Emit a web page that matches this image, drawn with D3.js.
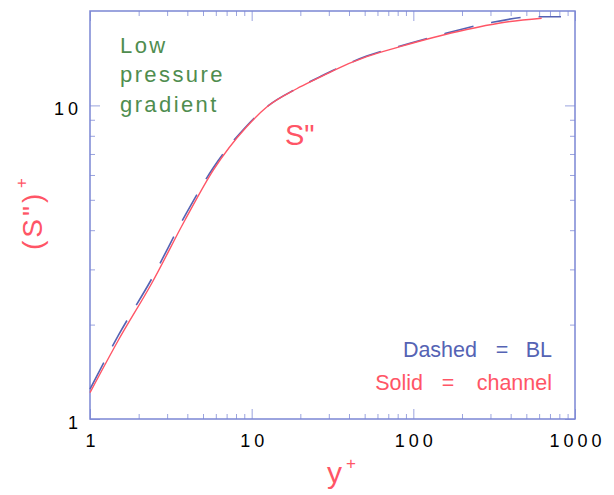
<!DOCTYPE html>
<html><head><meta charset="utf-8">
<script src="https://cdn.jsdelivr.net/npm/d3@7"></script>
<style>body{margin:0;background:#fff}svg{display:block}</style>
</head><body>
<svg id="c" width="614" height="495"></svg>
<script>
// ---- data ----
const redX  = [1, 1.5, 2.41, 3.87, 5.79, 9.31, 12.4, 19.0, 26.5, 32.0, 51.5, 82.7, 133, 214, 344, 622];
const redY  = [1.213, 1.786, 2.71, 4.31, 6.22, 8.55, 9.88, 11.30, 12.30, 12.92, 14.30, 15.39, 16.46, 17.46, 18.32, 18.96];
const blueX = [1, 1.5, 2.41, 3.87, 5.79, 9.31, 12.4, 19.0, 26.5, 32.0, 51.5, 95.3, 146, 286, 566, 819];
const blueY = [1.245, 1.85, 2.80, 4.45, 6.33, 8.6, 9.90, 11.32, 12.35, 12.95, 14.36, 15.78, 16.77, 18.27, 19.18, 19.18];
const xMajor = [1, 10, 100, 1000];
const xTickLabels = ["1", "10", "100", "1000"];
const xMinor = [2,3,4,5,6,7,8,9,20,30,40,50,60,70,80,90,200,300,400,500,600,700,800,900];
const yMajor = [1, 10];
const yTickLabels = ["1", "10"];
const yMinor = [2,3,4,5,6,7,8,9];
const annotation = ["Low", "pressure", "gradient"];

// ---- chart ----
const svg = d3.select("#c");
const L = 90, R = 575, T = 11, B = 419;
const x = d3.scaleLog().domain([1, 1000]).range([L, R]);
const y = d3.scaleLog().domain([1, 20]).range([B, T]);

const frameCol = "#7b86d4", tickCol = "#9aa3df";
const red = "#ff5566", blue = "#5563b4", green = "#4f8d4f";

function addAxis(axis, tx, ty) {
  const g = svg.append("g").attr("transform", `translate(${tx},${ty})`).call(axis);
  g.select(".domain").remove();
  g.selectAll(".tick line").attr("stroke", tickCol).attr("stroke-width", 1);
  return g;
}
// minor ticks
addAxis(d3.axisBottom(x).tickValues(xMinor).tickFormat("").tickSize(-5), 0, B);
addAxis(d3.axisTop(x).tickValues(xMinor).tickFormat("").tickSize(-5), 0, T);
addAxis(d3.axisLeft(y).tickValues(yMinor).tickFormat("").tickSize(-5), L, 0);
addAxis(d3.axisRight(y).tickValues(yMinor).tickFormat("").tickSize(-5), R, 0);
// major ticks
const gx = addAxis(d3.axisBottom(x).tickValues(xMajor).tickFormat((d, i) => xTickLabels[i]).tickSize(-10), 0, B);
addAxis(d3.axisTop(x).tickValues(xMajor).tickFormat("").tickSize(-10), 0, T);
const gy = addAxis(d3.axisLeft(y).tickValues(yMajor).tickFormat((d, i) => yTickLabels[i]).tickSize(-10), L, 0);
addAxis(d3.axisRight(y).tickValues(yMajor).tickFormat("").tickSize(-10), R, 0);

gx.selectAll(".tick text")
  .attr("y", 28).attr("dy", 0).attr("dx", 2)
  .attr("font-family", "Liberation Sans, Arial, sans-serif").attr("font-size", 18)
  .attr("letter-spacing", 4).attr("fill", "#000");
gy.selectAll(".tick text")
  .attr("x", -8).attr("dy", 9.5)
  .attr("font-family", "Liberation Sans, Arial, sans-serif").attr("font-size", 18)
  .attr("letter-spacing", 4).attr("fill", "#000");

// frame
svg.append("rect").attr("x", L).attr("y", T).attr("width", R - L).attr("height", B - T)
  .attr("fill", "none").attr("stroke", frameCol).attr("stroke-width", 1.5);

// curves
const line = d3.line().x(d => x(d[0])).y(d => y(d[1])).curve(d3.curveMonotoneX);
svg.append("path").datum(blueX.map((v, i) => [v, blueY[i]]))
  .attr("d", line).attr("fill", "none").attr("stroke", blue).attr("stroke-width", 1.6)
  .attr("stroke-dasharray", "30,18");
svg.append("path").datum(redX.map((v, i) => [v, redY[i]]))
  .attr("d", line).attr("fill", "none").attr("stroke", red).attr("stroke-width", 1.4);

// annotation text
const font = "Liberation Sans, Arial, sans-serif";
svg.append("g").selectAll("text").data(annotation).join("text")
  .attr("x", 120).attr("y", (d, i) => 53 + i * 29.3)
  .attr("font-family", font).attr("font-size", 22).attr("letter-spacing", 2.4)
  .attr("fill", green).text(d => d);

svg.append("text").attr("x", 285).attr("y", 145).attr("font-family", font)
  .attr("font-size", 29).attr("fill", red).text('S"');

// legend
const leg = [
  {t: "Dashed", x: 477, a: "end", y: 357, c: blue},
  {t: "=", x: 502, a: "middle", y: 357, c: blue},
  {t: "BL", x: 552, a: "end", y: 357, c: blue},
  {t: "Solid", x: 423, a: "end", y: 390, c: red},
  {t: "=", x: 448, a: "middle", y: 390, c: red},
  {t: "channel", x: 552, a: "end", y: 390, c: red}
];
svg.append("g").selectAll("text").data(leg).join("text")
  .attr("x", d => d.x).attr("y", d => d.y).attr("text-anchor", d => d.a)
  .attr("font-family", font).attr("font-size", 21.5).attr("fill", d => d.c).text(d => d.t);

// axis titles
svg.append("text").attr("x", 327).attr("y", 483).attr("font-family", font)
  .attr("font-size", 30).attr("fill", red).text("y");
svg.append("text").attr("x", 346).attr("y", 469).attr("font-family", font)
  .attr("font-size", 17).attr("fill", red).text("+");

const yl = svg.append("g").attr("transform", "translate(42,250) rotate(-90)");
yl.append("text").attr("x", 0).attr("y", 0).attr("font-family", font)
  .attr("font-size", 28).attr("letter-spacing", 3).attr("fill", red).text('(S")');
yl.append("text").attr("x", 62).attr("y", -15).attr("font-family", font)
  .attr("font-size", 17).attr("fill", red).text("+");
</script>
</body></html>
